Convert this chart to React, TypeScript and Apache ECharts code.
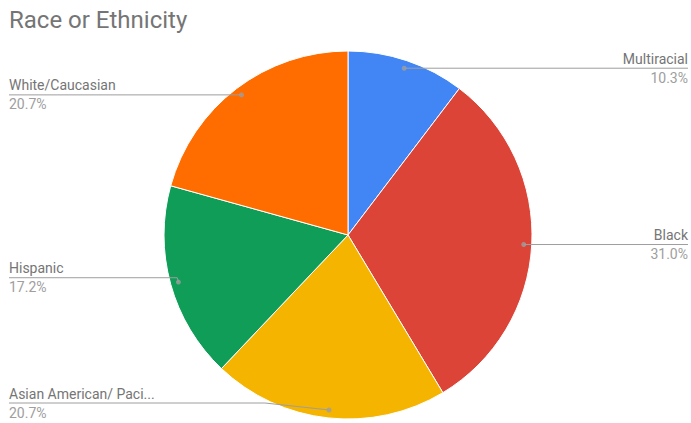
import React, { useEffect, useRef } from "react";
import * as echarts from "echarts";

const categories = [
  "Multiracial",
  "Black",
  "Asian American/ Pacific Islander",
  "Hispanic",
  "White/Caucasian",
];
const values = [3, 9, 6, 5, 6];
const colors = ["#4285F4", "#DB4437", "#F4B400", "#0F9D58", "#FF6D01"];
const titleText = "Race or Ethnicity";

const CENTER: [number, number] = [348, 235];
const R = 184;
const LABEL_R = 176;

export default function App() {
  const ref = useRef<HTMLDivElement>(null);
  useEffect(() => {
    if (!ref.current) return;
    const chart = echarts.init(ref.current, null, { renderer: "svg" });
    const total = values.reduce((a, b) => a + b, 0);
    let cum = 0;
    const dots = values.map((v) => {
      const mid = cum + v / 2;
      cum += v;
      return [LABEL_R / R, mid];
    });
    const pieData = categories.map((name, i) => ({
      name,
      value: values[i],
      itemStyle: { color: colors[i] },
    }));
    const truncate = (s: string) => (s.length > 20 ? s.slice(0, 20) + "..." : s);
    chart.setOption({
      animation: false,
      title: {
        text: titleText,
        left: 4,
        top: 3,
        textStyle: {
          color: "#757575",
          fontSize: 24,
          fontWeight: "normal",
          fontFamily: "Roboto",
        },
      },
      polar: { center: CENTER, radius: [0, R] },
      angleAxis: {
        type: "value",
        min: 0,
        max: total,
        startAngle: 90,
        clockwise: true,
        show: false,
      },
      radiusAxis: { type: "value", min: 0, max: 1, show: false },
      series: [
        {
          type: "pie",
          center: CENTER,
          radius: [0, R],
          startAngle: 90,
          clockwise: true,
          silent: true,
          data: pieData,
          itemStyle: { borderColor: "#ffffff", borderWidth: 1 },
          label: { show: false },
          labelLine: { show: false },
          z: 1,
        },
        {
          type: "pie",
          center: CENTER,
          radius: [0, LABEL_R],
          startAngle: 90,
          clockwise: true,
          silent: true,
          data: categories.map((name, i) => ({ name, value: values[i] })),
          itemStyle: { color: "rgba(0,0,0,0)" },
          label: {
            show: true,
            alignTo: "edge",
            edgeDistance: 9,
            fontFamily: "Roboto",
            fontSize: 14,
            lineHeight: 19,
            formatter: (p: any) =>
              `{n|${truncate(p.name)}}\n{p|${((p.value / total) * 100).toFixed(1)}%}`,
            rich: {
              n: { color: "#757575", fontSize: 14, lineHeight: 19, fontFamily: "Roboto" },
              p: { color: "#9e9e9e", fontSize: 14, lineHeight: 19, fontFamily: "Roboto" },
            },
          },
          labelLine: {
            show: true,
            length: 0,
            length2: 10,
            lineStyle: { color: "#9e9e9e", width: 1 },
          },
          labelLayout: (params: any) => {
            const isLeft = params.labelRect.x < chart.getWidth() / 2;
            const points = params.labelLinePoints;
            if (points) {
              points[2][0] = isLeft
                ? params.labelRect.x
                : params.labelRect.x + params.labelRect.width;
            }
            return { labelLinePoints: points };
          },
          z: 3,
        },
        {
          type: "scatter",
          coordinateSystem: "polar",
          data: dots,
          symbolSize: 5,
          itemStyle: { color: "#9e9e9e" },
          silent: true,
          z: 4,
        },
      ],
    });
    return () => chart.dispose();
  }, []);
  return (
    <div
      style={{
        position: "absolute",
        left: 0,
        top: 0,
        width: 691,
        height: 423,
        overflow: "hidden",
        background: "#fff",
      }}
    >
      <div ref={ref} style={{ width: 697, height: 423 }} />
    </div>
  );
}
